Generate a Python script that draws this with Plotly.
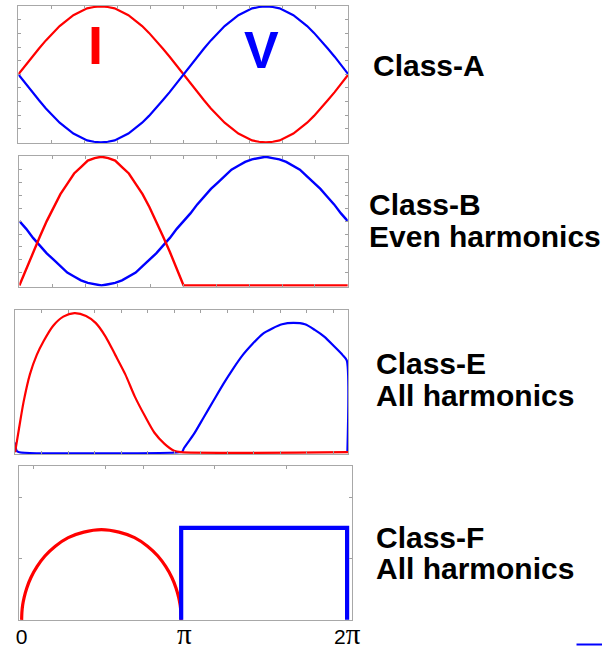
import math
import plotly.graph_objects as go

PI = math.pi
W, H = 611, 650

RED = "#ff0000"
BLUE = "#0000ff"
FRAME = "#a8a8a8"
TICK = "#a0a0a0"

# ---------------------------------------------------------------------------
# Waveform data (one RF cycle, angle in radians)
# ---------------------------------------------------------------------------

# Class-A / Class-B: samples every 7.5 degrees
angle_deg = [d / 2 for d in range(0, 721, 15)]  # 0, 7.5, ..., 360
theta_ab = [d * PI / 180 for d in angle_deg]

class_a_current = [
    0.00, 0.13, 0.26, 0.38, 0.50, 0.61, 0.71, 0.79, 0.87, 0.92, 0.97, 0.99,
    1.00, 0.99, 0.97, 0.92, 0.87, 0.79, 0.71, 0.61, 0.50, 0.38, 0.26, 0.13,
    0.00, -0.13, -0.26, -0.38, -0.50, -0.61, -0.71, -0.79, -0.87, -0.92, -0.97, -0.99,
    -1.00, -0.99, -0.97, -0.92, -0.87, -0.79, -0.71, -0.61, -0.50, -0.38, -0.26, -0.13,
    0.00,
]
class_a_voltage = [
    0.00, -0.13, -0.26, -0.38, -0.50, -0.61, -0.71, -0.79, -0.87, -0.92, -0.97, -0.99,
    -1.00, -0.99, -0.97, -0.92, -0.87, -0.79, -0.71, -0.61, -0.50, -0.38, -0.26, -0.13,
    0.00, 0.13, 0.26, 0.38, 0.50, 0.61, 0.71, 0.79, 0.87, 0.92, 0.97, 0.99,
    1.00, 0.99, 0.97, 0.92, 0.87, 0.79, 0.71, 0.61, 0.50, 0.38, 0.26, 0.13,
    0.00,
]

class_b_current = [
    0.00, 0.13, 0.26, 0.38, 0.50, 0.61, 0.71, 0.79, 0.87, 0.92, 0.97, 0.99,
    1.00, 0.99, 0.97, 0.92, 0.87, 0.79, 0.71, 0.61, 0.50, 0.38, 0.26, 0.13,
    0.00, 0.00, 0.00, 0.00, 0.00, 0.00, 0.00, 0.00, 0.00, 0.00, 0.00, 0.00,
    0.00, 0.00, 0.00, 0.00, 0.00, 0.00, 0.00, 0.00, 0.00, 0.00, 0.00, 0.00,
    0.00,
]
class_b_voltage = [
    0.50, 0.44, 0.37, 0.31, 0.25, 0.20, 0.15, 0.10, 0.07, 0.04, 0.02, 0.01,
    0.00, 0.01, 0.02, 0.04, 0.07, 0.10, 0.15, 0.20, 0.25, 0.31, 0.37, 0.44,
    0.50, 0.56, 0.63, 0.69, 0.75, 0.80, 0.85, 0.90, 0.93, 0.96, 0.98, 0.99,
    1.00, 0.99, 0.98, 0.96, 0.93, 0.90, 0.85, 0.80, 0.75, 0.69, 0.63, 0.56,
    0.50,
]

# Class-E switch current and voltage
class_e_theta_i = [0.0, 0.07, 0.16, 0.28, 0.41, 0.54, 0.72, 0.91, 1.12,
                   1.34, 1.52, 1.71, 1.89, 2.08, 2.26, 2.45, 2.63, 2.82,
                   3.00, 3.13, 6.283]
class_e_current = [0.0, 0.16, 0.36, 0.56, 0.70, 0.80, 0.91, 0.975, 1.00,
                   0.98, 0.93, 0.83, 0.70, 0.56, 0.40, 0.26, 0.14, 0.06,
                   0.01, 0.0, 0.0]
class_e_theta_v = [0.0, 0.03, 0.08, 3.10, 3.157, 3.188, 3.373, 3.558, 3.743,
                   3.928, 4.113, 4.298, 4.483, 4.668, 4.853, 5.038, 5.252, 5.469,
                   5.654, 5.839, 6.024, 6.177, 6.258, 6.27]
class_e_voltage = [0.07, 0.01, 0.0, 0.0, 0.005, 0.03, 0.13, 0.25, 0.37,
                   0.49, 0.60, 0.70, 0.78, 0.85, 0.89, 0.92, 0.93, 0.92,
                   0.88, 0.83, 0.76, 0.70, 0.66, 0.0]

# Class-F: rounded current pulse and square voltage
class_f_theta_i = [0.0, 0.005, 0.02, 0.05, 0.1, 0.18, 0.3, 0.45, 0.65, 0.9, 1.2,
                   1.54, 1.88, 2.18, 2.43, 2.63, 2.78, 2.9, 2.98, 3.03, 3.06,
                   3.075, 3.08]
class_f_current = [0.0, 0.12, 0.24, 0.37, 0.52, 0.69, 0.87, 1.04, 1.20, 1.34, 1.43,
                   1.47, 1.43, 1.34, 1.20, 1.04, 0.87, 0.69, 0.52, 0.37, 0.24,
                   0.12, 0.0]
class_f_theta_v = [3.08, 3.08, 6.283, 6.283]
class_f_voltage = [0.0, 1.50, 1.50, 0.0]

class_titles = [("Class-A",), ("Class-B", "Even harmonics"),
                ("Class-E", "All harmonics"), ("Class-F", "All harmonics")]
phase_labels = ["0", "π", "2π"]


def dom_x(left, right):
    return [left / W, right / W]


def dom_y(top, bottom):
    return [1 - bottom / H, 1 - top / H]


fig = go.Figure()

# Panel 1: Class-A
fig.add_trace(go.Scatter(x=theta_ab, y=class_a_current, mode="lines",
                         line=dict(color=RED, width=2.2), xaxis="x", yaxis="y"))
fig.add_trace(go.Scatter(x=theta_ab, y=class_a_voltage, mode="lines",
                         line=dict(color=BLUE, width=2.2), xaxis="x", yaxis="y"))

# Panel 2: Class-B
fig.add_trace(go.Scatter(x=theta_ab, y=class_b_voltage, mode="lines",
                         line=dict(color=BLUE, width=2.4), xaxis="x2", yaxis="y2"))
fig.add_trace(go.Scatter(x=theta_ab, y=class_b_current, mode="lines",
                         line=dict(color=RED, width=2.4), xaxis="x2", yaxis="y2"))

# Panel 3: Class-E
fig.add_trace(go.Scatter(x=class_e_theta_v, y=class_e_voltage, mode="lines",
                         line=dict(color=BLUE, width=2.2, shape="spline", smoothing=0.7),
                         xaxis="x3", yaxis="y3"))
fig.add_trace(go.Scatter(x=class_e_theta_i, y=class_e_current, mode="lines",
                         line=dict(color=RED, width=2.2, shape="spline", smoothing=0.7),
                         xaxis="x3", yaxis="y3"))

# Panel 4: Class-F
fig.add_trace(go.Scatter(x=class_f_theta_i, y=class_f_current, mode="lines",
                         line=dict(color=RED, width=3.2, shape="spline", smoothing=0.8),
                         xaxis="x4", yaxis="y4"))
fig.add_trace(go.Scatter(x=class_f_theta_v, y=class_f_voltage, mode="lines",
                         line=dict(color=BLUE, width=4.2), xaxis="x4", yaxis="y4"))

frame = dict(showline=True, linecolor=FRAME, linewidth=1, showgrid=False,
             zeroline=False, ticks="inside", ticklen=3, tickcolor=TICK,
             tickwidth=1, showticklabels=False, mirror="ticks")

tenths = [k * 2 * PI / 10 for k in range(1, 10)]
half_rad = [k * 0.5 for k in range(1, 13)]

f4_left, f4_right = 16.3, 355.7
f4_zero, f4_scale = 19.0, 52.84
f4_range = [-(f4_zero - f4_left) / f4_scale, (f4_right - f4_zero) / f4_scale]

serif_pi = ('<span style="font-family:Liberation Serif;font-size:29px">'
            + phase_labels[1] + "</span>")

fig.update_layout(
    width=W, height=H,
    margin=dict(l=0, r=0, t=0, b=0),
    paper_bgcolor="white", plot_bgcolor="white",
    showlegend=False,
    xaxis=dict(frame, domain=dom_x(15.7, 352.3), anchor="y",
               range=[0, 2 * PI], tickvals=tenths),
    yaxis=dict(frame, domain=dom_y(5.7, 144.0), anchor="x",
               range=[-1.01, 1.01], tickvals=[-0.8, -0.6, -0.4, -0.2, 0, 0.2, 0.4, 0.6, 0.8]),
    xaxis2=dict(frame, domain=dom_x(16.7, 351.7), anchor="y2",
                range=[0, 2 * PI], tickvals=tenths),
    yaxis2=dict(frame, domain=dom_y(156.7, 288.3), anchor="x2",
                range=[-0.008, 1.008], tickvals=[0.1, 0.2, 0.3, 0.4, 0.5, 0.6, 0.7, 0.8, 0.9]),
    xaxis3=dict(frame, domain=dom_x(12.3, 352.0), anchor="y3",
                range=[0, 2 * PI], tickvals=half_rad),
    yaxis3=dict(frame, domain=dom_y(312.3, 456.7), anchor="x3",
                range=[-0.012, 1.02], ticks=""),
    xaxis4=dict(frame, domain=dom_x(f4_left, f4_right), anchor="y4",
                range=f4_range, ticks="", mirror=True,
                tickvals=[0, PI, 2 * PI],
                ticktext=[phase_labels[0], serif_pi,
                          phase_labels[2][0] + serif_pi],
                showticklabels=True, ticklabelstandoff=-3,
                tickfont=dict(family="Liberation Sans", size=21, color="black")),
    yaxis4=dict(frame, domain=dom_y(469.3, 624.3), anchor="x4",
                range=[-0.01, 2.5], tickvals=[1, 2]),
    xaxis5=dict(domain=dom_x(f4_left, f4_right), anchor="y4", overlaying="x4",
                side="top", range=f4_range, showgrid=False, zeroline=False,
                showline=False, showticklabels=False, ticks="inside", ticklen=3,
                tickcolor=TICK, tickvals=[0.233, 1.62, 2.35, 3.715, 5.12]),
)

# an invisible trace so the top tick axis of panel 4 is drawn
fig.add_trace(go.Scatter(x=[None], y=[None], xaxis="x5", yaxis="y4",
                         mode="lines", hoverinfo="skip"))

# Big I / V markers in the Class-A panel
fig.add_annotation(x=1.465, y=0.425, xref="x", yref="y", text="<b>I</b>",
                   showarrow=False, font=dict(family="Liberation Sans", size=54, color=RED))
fig.add_annotation(x=4.635, y=0.365, xref="x", yref="y", text="<b>V</b>",
                   showarrow=False, font=dict(family="Liberation Sans", size=52, color=BLUE))

# Class titles to the right of each panel
title_rows = [
    (class_titles[0][0], 375, 65.9),
    (class_titles[1][0], 371, 205.9),
    (class_titles[1][1], 371, 237.5),
    (class_titles[2][0], 378, 365.9),
    (class_titles[2][1], 378, 397.5),
    (class_titles[3][0], 378, 540.9),
    (class_titles[3][1], 378, 572.5),
]
for text, xpix, ypix in title_rows:
    fig.add_annotation(x=xpix / W, y=1 - ypix / H, xref="paper", yref="paper",
                       text="<b>" + text + "</b>", showarrow=False,
                       xanchor="left", yanchor="middle",
                       font=dict(family="Liberation Sans", size=30, color="black"))

# thin accent stroke in the lower-right corner
fig.add_shape(type="line", xref="paper", yref="paper",
              x0=585 / W, x1=1.0, y0=1 - 648.5 / H, y1=1 - 648.5 / H,
              line=dict(color=BLUE, width=2))

fig.write_html("out.html")
